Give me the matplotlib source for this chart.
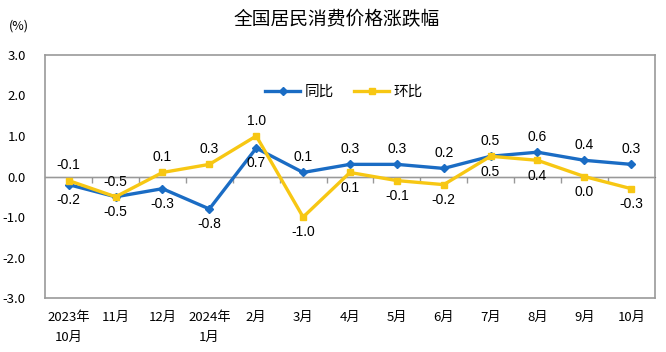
import matplotlib
matplotlib.use('Agg')
import matplotlib.pyplot as plt

plt.rcParams['font.family'] = ['Noto Sans CJK SC', 'DejaVu Sans']

months = ['2023年\n10月', '11月', '12月', '2024年\n1月', '2月', '3月', '4月',
          '5月', '6月', '7月', '8月', '9月', '10月']
yoy = [-0.2, -0.5, -0.3, -0.8, 0.7, 0.1, 0.3, 0.3, 0.2, 0.5, 0.6, 0.4, 0.3]
mom = [-0.1, -0.5, 0.1, 0.3, 1.0, -1.0, 0.1, -0.1, -0.2, 0.5, 0.4, 0.0, -0.3]
# label side: 1 above, -1 below
yoy_side = [-1, -1, -1, -1, -1, 1, 1, 1, 1, 1, 1, 1, 1]
mom_side = [1, 1, 1, 1, 1, -1, -1, -1, -1, -1, -1, -1, -1]

blue = '#1a6cc4'
yellow = '#f7c713'

fig = plt.figure(figsize=(6.66, 3.52), dpi=100)
ax = fig.add_axes([0.068, 0.153, 0.915, 0.691])

x = range(len(months))
ax.plot(x, yoy, color=blue, lw=2.4, marker='D', ms=4, label='同比', zorder=3)
ax.plot(x, mom, color=yellow, lw=2.4, marker='s', ms=5, label='环比', zorder=3)

for i in x:
    ax.annotate(f'{yoy[i]:.1f}', (i, yoy[i]), xytext=(0, 11 * yoy_side[i]),
                textcoords='offset points', ha='center', va='center',
                fontsize=10, family=['Liberation Sans'])
    ax.annotate(f'{mom[i]:.1f}', (i, mom[i]), xytext=(0, 11 * mom_side[i]),
                textcoords='offset points', ha='center', va='center',
                fontsize=10, family=['Liberation Sans'])

ax.set_xlim(-0.5, len(months) - 0.5)
ax.set_ylim(-3, 3)
ax.set_yticks([-3, -2, -1, 0, 1, 2, 3])
ax.set_yticklabels([f'{v:.1f}' for v in [-3, -2, -1, 0, 1, 2, 3]])
ax.set_xticks(list(x))
ax.set_xticklabels(months, linespacing=1.7)
ax.tick_params(axis='both', length=0, labelsize=9.5, pad=9)
ax.tick_params(axis='y', pad=14)
for lab in ax.get_xticklabels():
    lab.set_verticalalignment('top')
for s in ax.spines.values():
    s.set_color('#999999')
    s.set_linewidth(1.2)

# zero line with category boundary ticks
ax.axhline(0, color='#999999', lw=1.0, zorder=1)
sec = ax.secondary_xaxis(0.5)
sec.set_xticks([i + 0.5 for i in range(len(months) - 1)])
sec.set_xticklabels([])
sec.tick_params(direction='in', length=4, color='#999999', width=1)
sec.spines['bottom'].set_visible(False)

ax.legend(loc='center', bbox_to_anchor=(0.49, 0.848), ncol=2, frameon=False,
          fontsize=10.5, handlelength=2.4, columnspacing=1.4, handletextpad=0.3)

fig.text(0.505, 0.945, '全国居民消费价格涨跌幅', ha='center', va='center',
         fontsize=13.5)
fig.text(0.028, 0.925, '(%)', ha='center', va='center', fontsize=9)

plt.savefig('out.png', dpi=100)
